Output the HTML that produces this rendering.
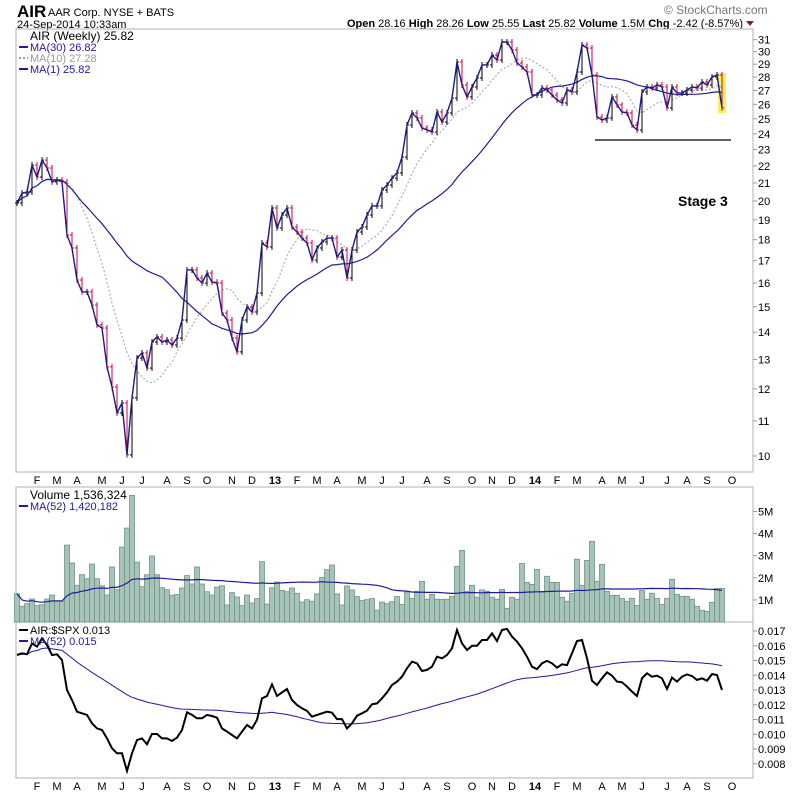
<!DOCTYPE html>
<html><head><meta charset="utf-8">
<style>
body{margin:0;background:#fff;width:800px;height:795px;overflow:hidden;font-family:"Liberation Sans","DejaVu Sans",sans-serif}
svg{display:block}
</style></head>
<body>
<svg id="chart" width="800" height="795" xmlns="http://www.w3.org/2000/svg" font-family="Liberation Sans, DejaVu Sans, sans-serif">
<text x="17" y="17" font-size="17" font-weight="bold" fill="#000">AIR</text>
<text x="48" y="16" font-size="11" fill="#000">AAR Corp. NYSE + BATS</text>
<text x="17" y="28" font-size="11" fill="#000">24-Sep-2014 10:33am</text>
<text x="664" y="14" font-size="12" fill="#777">© StockCharts.com</text>
<text x="743" y="27" font-size="11" text-anchor="end" fill="#000"><tspan font-weight="bold">Open</tspan> 28.16 <tspan font-weight="bold">High</tspan> 28.26 <tspan font-weight="bold">Low</tspan> 25.55 <tspan font-weight="bold">Last</tspan> 25.82 <tspan font-weight="bold">Volume</tspan> 1.5M <tspan font-weight="bold">Chg</tspan> -2.42 (-8.57%)</text>
<path d="M746 21 L754 21 L750 26 Z" fill="#8b1a3a"/>
<g id="panels"></g>
</svg>
<script>
const closes=[19.89,20.43,20.49,22.05,21.34,22.35,21.87,21.06,21.17,21.06,18.23,17.60,16.13,15.62,15.62,15.07,14.28,14.16,12.74,12.06,11.24,11.55,10.03,11.71,13.05,13.23,12.70,13.63,13.82,13.63,13.71,13.52,13.78,14.47,16.58,16.58,16.22,16.00,16.44,16.04,16.00,14.75,14.47,13.78,13.27,14.47,14.99,14.79,15.57,17.84,17.65,19.62,18.58,
19.25,19.62,18.63,18.38,18.08,17.84,17.03,17.60,17.89,18.08,18.08,17.17,17.50,16.22,17.50,18.38,18.63,19.25,19.73,19.73,20.60,20.88,21.28,21.58,22.53,24.58,25.40,25.06,24.38,24.25,24.12,25.47,24.78,25.40,26.45,29.17,27.41,26.53,27.26,27.93,28.94,28.94,29.73,29.33,30.80,30.80,30.14,29.09,28.78,28.39,26.67,26.67,
27.18,27.04,26.67,26.31,26.10,27.04,26.89,28.39,30.55,30.30,28.16,25.12,24.92,25.06,26.53,25.96,25.47,25.40,24.58,24.25,26.89,27.26,27.18,27.41,27.26,25.75,27.26,26.82,26.82,27.04,27.26,27.18,27.63,27.41,28.01,28.16,25.75];
const volumes=[1.28,0.71,0.83,1.04,0.74,0.78,1.04,1.22,0.95,0.95,3.48,2.67,1.66,2.14,1.96,2.62,1.96,1.64,1.22,2.49,1.46,3.39,4.25,5.73,2.71,1.60,2.14,2.99,2.14,1.55,1.46,1.21,1.24,1.54,2.10,1.72,2.49,1.72,1.37,1.22,1.58,1.64,0.77,1.33,1.13,0.74,1.22,0.86,1.06,2.73,0.81,1.55,1.81,1.43,1.37,1.54,1.30,0.90,1.01,0.94,1.27,2.01,2.37,2.58,1.27,0.77,1.63,1.45,1.15,0.97,1.01,1.06,0.54,0.90,0.83,0.92,1.15,
0.80,1.36,1.07,1.39,1.84,1.03,1.25,1.03,1.03,1.03,1.16,2.52,3.24,1.39,1.66,1.12,1.45,1.39,1.12,1.03,1.48,0.62,1.12,1.03,2.65,1.79,1.70,2.38,1.39,2.07,1.79,1.79,1.12,0.94,1.30,2.84,1.66,2.79,3.65,1.84,2.61,1.39,1.21,1.21,1.07,0.94,1.07,0.75,1.43,1.03,1.30,1.07,0.80,1.07,1.93,1.25,1.16,1.16,1.03,0.71,0.53,0.48,0.89,1.52,1.52];
// ratio AIR:$SPX in thousandths
const ratios=[15.37,15.49,15.42,16.16,15.94,16.50,16.05,15.37,15.42,15.03,13.00,12.32,11.53,11.42,11.31,10.74,10.40,10.29,9.72,9.05,8.71,8.71,7.51,8.71,9.61,9.72,9.32,10.02,10.02,9.72,9.72,9.54,9.77,10.29,11.49,11.31,11.08,11.08,11.31,11.24,11.12,10.40,10.18,9.95,9.72,10.18,10.63,10.40,10.97,12.44,12.59,13.38,12.59,12.84,13.07,12.32,11.98,11.76,11.58,11.19,11.31,11.42,11.53,11.46,11.03,11.03,10.40,10.74,11.26,11.42,11.60,12.03,12.09,12.44,12.84,13.34,13.57,
13.90,14.47,14.92,14.81,14.29,14.36,14.58,15.26,15.15,15.37,15.83,17.07,16.16,15.71,16.00,16.00,16.39,16.39,16.84,16.32,17.07,17.14,16.62,16.28,15.83,15.26,14.58,14.42,14.81,14.97,14.81,14.51,14.74,14.69,15.49,16.32,16.39,15.15,13.63,13.34,13.79,14.20,13.97,13.57,13.52,13.23,12.89,12.59,13.79,14.13,13.90,13.97,13.79,13.07,13.84,13.57,13.90,14.06,13.95,13.68,13.79,13.63,14.08,14.02,13.00];
const priceTicks=[10,11,12,13,14,15,16,17,18,19,20,21,22,23,24,25,26,27,28,29,30,31];
const volTicks=[1,2,3,4,5];
const ratioTicks=[17,16,15,14,13,12,11,10,9,8];
const monthLabels=["F","M","A","M","J","J","A","S","O","N","D","13","F","M","A","M","J","J","A","S","O","N","D","14","F","M","A","M","J","J","A","S","O"];
const monthWeeks=[4,8,12,17,21,25,30,34,38,43,47,51.6,56,60,64,69,73,77,82,86,91,95,99,103.6,108,112,117,121,125,130,134,138,143];

const NS="http://www.w3.org/2000/svg";
const root=document.getElementById('panels');
function mk(tag,attrs,parent){const e=document.createElementNS(NS,tag);for(const k in attrs)e.setAttribute(k,attrs[k]);(parent||root).appendChild(e);return e;}
const L=16,R=753;
const xS=i=>17+5*i;
const yP=p=>456-368*Math.log(p/10);
const yV=v=>622-22.1*v;
const yR=r=>631+(17-r)*14.75;
function ma(arr,n){return arr.map((_,i)=>{const s=Math.max(0,i-n+1);let t=0;for(let j=s;j<=i;j++)t+=arr[j];return t/(i-s+1);});}
function path(arr,yf){return arr.map((v,i)=>(i?'L':'M')+xS(i).toFixed(1)+' '+yf(v).toFixed(1)).join(' ');}

let f;
f=mk('rect',{x:L,y:29,width:R-L,height:443,fill:'none',stroke:'#b0b0b0'});


f=mk('rect',{x:L,y:487,width:R-L,height:135,fill:'none',stroke:'#b0b0b0'});


f=mk('rect',{x:L,y:622,width:R-L,height:156,fill:'none',stroke:'#b0b0b0'});



priceTicks.forEach(p=>{const y=yP(p);
 mk('line',{x1:R,x2:R+4,y1:y,y2:y,stroke:'#999'});
 const t=mk('text',{x:R+5,y:y+4,'font-size':11,fill:'#000'});t.textContent=p;
 
 
});
volTicks.forEach(v=>{const y=yV(v);
 mk('line',{x1:R,x2:R+4,y1:y,y2:y,stroke:'#999'});
 const t=mk('text',{x:R+5,y:y+4,'font-size':11,fill:'#000'});t.textContent=v+'M';
 
 
});
ratioTicks.forEach(r=>{const y=yR(r);
 mk('line',{x1:R,x2:R+4,y1:y,y2:y,stroke:'#999'});
 const t=mk('text',{x:R+5,y:y+4,'font-size':11,fill:'#000'});t.textContent=(r/1000).toFixed(3);
 
 
});
[480,786].forEach(ay=>{
 monthLabels.forEach((m,k)=>{const x=xS(monthWeeks[k]);
  const t=mk('text',{x:x,y:ay+4,'font-size':11,'text-anchor':'middle',fill:'#000','font-weight':(m==='13'||m==='14')?'bold':'normal'});t.textContent=m;
  
  
 });
});

f=mk('line',{x1:595,x2:731,y1:140,y2:140,stroke:'#000','stroke-width':1.2});


f=mk('rect',{x:718,y:73,width:8,height:40,fill:'#f5f25a'});



f=mk('path',{d:path(ma(closes,10),yP),fill:'none',stroke:'#aab0b0','stroke-width':1.2,'stroke-dasharray':'2,2'});


f=mk('path',{d:path(ma(closes,30),yP),fill:'none',stroke:'#1c1c9c','stroke-width':1.2});



closes.forEach((c,i)=>{const o=i?closes[i-1]:c;const x=xS(i);const col=(i&&c<o)?'#d0003a':'#000';
 const g=mk('g',{stroke:col,'stroke-width':1});
 
 
 const hi=Math.max(o,c),lo=Math.min(o,c);
 mk('line',{x1:x,x2:x,y1:yP(hi)-3,y2:yP(lo)+3},g);
 mk('line',{x1:x-2,x2:x,y1:yP(o),y2:yP(o)},g);
 mk('line',{x1:x,x2:x+2,y1:yP(c),y2:yP(c)},g);
});
f=mk('path',{d:path(closes,yP),fill:'none',stroke:'#1a1a8a','stroke-width':1.4});



volumes.forEach((v,i)=>{const r=mk('rect',{x:xS(i)-2.5,y:yV(v),width:5,height:622-yV(v),fill:'#a8c4b8',stroke:'#6f9484','stroke-width':0.8});
 
 
});
f=mk('path',{d:path(ma(volumes,52),yV),fill:'none',stroke:'#1c1c9c','stroke-width':1.2});



f=mk('path',{d:path(ma(ratios,52),yR),fill:'none',stroke:'#1c1c9c','stroke-width':1});


f=mk('path',{d:path(ratios,yR),fill:'none',stroke:'#000','stroke-width':2});



function legend(y,color,txt,dash,name){
 mk('line',{x1:19,x2:28,y1:y-4,y2:y-4,stroke:color,'stroke-width':2,'stroke-dasharray':dash||''});
 const t=mk('text',{x:30,y:y,'font-size':11,fill:color});t.textContent=txt;
 
 
}
let t=mk('text',{x:30,y:40,'font-size':12,fill:'#000'});t.textContent='AIR (Weekly) 25.82';


legend(51,'#1c1c9c','MA(30) 26.82','','legend-ma30');
legend(62,'#999','MA(10) 27.28','2,2','legend-ma10');
legend(73,'#1c1c9c','MA(1) 25.82','','legend-ma1');
t=mk('text',{x:30,y:499,'font-size':12,fill:'#000'});t.textContent='Volume 1,536,324';


legend(510,'#1c1c9c','MA(52) 1,420,182','','legend-volume-ma52');
legend(634,'#000','AIR:$SPX 0.013','','legend-ratio');
legend(645,'#1c1c9c','MA(52) 0.015','','legend-ratio-ma52');
t=mk('text',{x:678,y:206,'font-size':14,'font-weight':'bold',fill:'#000'});t.textContent='Stage 3';


</script>
</body></html>
